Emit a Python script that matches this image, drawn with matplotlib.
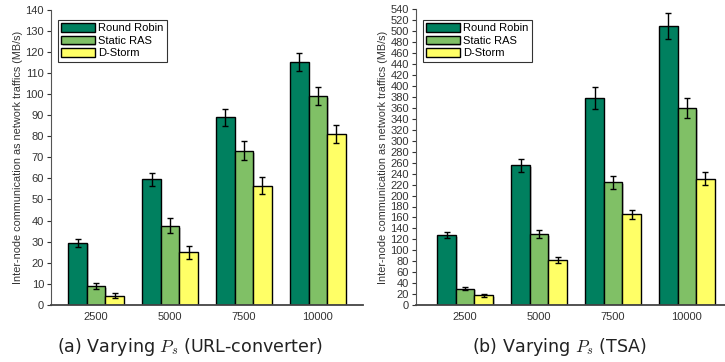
import numpy as np
import matplotlib
matplotlib.use("Agg")
import matplotlib.pyplot as plt
import matplotlib.patheffects as pe

plt.rcParams["font.family"] = ["Liberation Sans", "DejaVu Sans"]
plt.rcParams["mathtext.fontset"] = "cm"

# Workload sizes on the x axis
sizes = ["2500", "5000", "7500", "10000"]
schedulers = ["Round Robin", "Static RAS", "D-Storm"]

# URL-converter: mean inter-node traffic (MB/s) and error half-widths
url_rr = [29.5, 59.5, 89, 115]
url_ras = [9, 37.5, 73, 99]
url_dstorm = [4.5, 25, 56.5, 81]
url_rr_err = [2, 3, 4, 4.2]
url_ras_err = [1.5, 3.5, 4.5, 4.3]
url_dstorm_err = [1, 3, 4, 4.2]

# TSA: mean inter-node traffic (MB/s) and error half-widths
tsa_rr = [128, 255, 378, 510]
tsa_ras = [30, 130, 224, 360]
tsa_dstorm = [18, 82, 166, 231]
tsa_rr_err = [6, 12, 20, 24]
tsa_ras_err = [2.5, 7, 12, 18]
tsa_dstorm_err = [2.5, 6, 8, 12]

colors = ["#00805F", "#80C066", "#FFFF66"]
ylabel = "Inter-node communication as network traffics (MB/s)"

fig = plt.figure(figsize=(7.25, 3.62), dpi=100)
W, H = 725, 362


def panel(rect, xlim, means, errs, ymax, ystep, caption, cx):
    l, b, w, h = rect
    ax = fig.add_axes([l / W, b / H, w / W, h / H])
    x = np.arange(len(sizes))
    width = 0.25
    shadow = [pe.SimplePatchShadow(offset=(1.2, -1.2), shadow_rgbFace="#999999", alpha=0.5), pe.Normal()]
    handles = []
    for i, (m, e, c, name) in enumerate(zip(means, errs, colors, schedulers)):
        pos = x + (i - 1) * width
        bars = ax.bar(pos, m, width, color=c, edgecolor="black", linewidth=1.0,
                      label=name, zorder=2)
        for p in bars:
            p.set_path_effects(shadow)
        ax.errorbar(pos, m, yerr=e, fmt="none", ecolor="black", elinewidth=1.0,
                    capsize=2.5, capthick=1.0, zorder=3)
        handles.append(bars)
    ax.set_xlim(*xlim)
    ax.set_ylim(0, ymax)
    ax.set_yticks(np.arange(0, ymax + 1, ystep))
    ax.set_xticks(x)
    ax.set_xticklabels(sizes)
    ax.tick_params(axis="x", length=0, labelsize=8, pad=5, colors="#333333")
    ax.tick_params(axis="y", direction="out", length=3, width=0.8, labelsize=8,
                   pad=2, colors="#333333")
    for s in ["top", "right"]:
        ax.spines[s].set_visible(False)
    ax.spines["left"].set_color("#555555")
    ax.spines["left"].set_linewidth(0.8)
    ax.spines["bottom"].set_color("#444444")
    ax.spines["bottom"].set_linewidth(1.3)
    ax.set_ylabel(ylabel, fontsize=7.8, color="#333333", labelpad=2)
    leg = ax.legend(handles=handles, loc="upper left", bbox_to_anchor=(0.022, 0.965),
                    fontsize=8, frameon=True, fancybox=False, edgecolor="black",
                    handlelength=3.0, handleheight=0.8, labelspacing=0.22,
                    borderpad=0.3, handletextpad=0.3, borderaxespad=0)
    leg.get_frame().set_linewidth(0.8)
    fig.text(cx / W, 1 - 347 / H, caption, ha="center", va="center", fontsize=12.6,
             family="DejaVu Sans", color="#222222")
    return ax


panel((51, 57, 312, 295.5), (-0.61, 3.61),
      [url_rr, url_ras, url_dstorm], [url_rr_err, url_ras_err, url_dstorm_err],
      140, 10, r"(a) Varying $P_s$ (URL-converter)", 190)
panel((416, 57, 312, 295.5), (-0.665, 3.555),
      [tsa_rr, tsa_ras, tsa_dstorm], [tsa_rr_err, tsa_ras_err, tsa_dstorm_err],
      540, 20, r"(b) Varying $P_s$ (TSA)", 559)

fig.savefig("out.png", dpi=100)
